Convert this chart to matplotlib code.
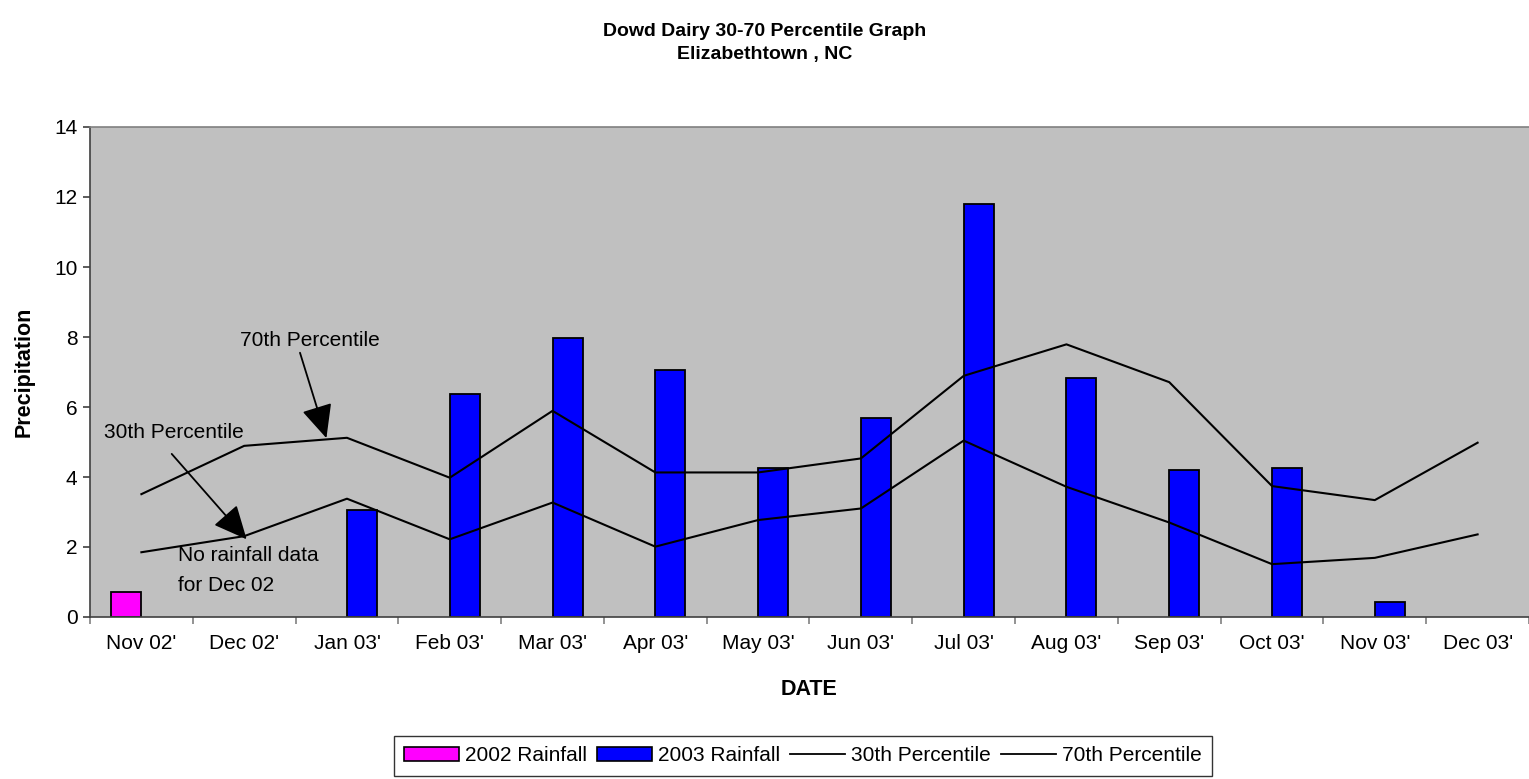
import matplotlib
matplotlib.use("Agg")
import matplotlib.pyplot as plt
import numpy as np
from matplotlib.patches import Patch
from matplotlib.lines import Line2D

plt.rcParams['font.family'] = ['Liberation Sans', 'DejaVu Sans']

categories = ["Nov 02'", "Dec 02'", "Jan 03'", "Feb 03'", "Mar 03'", "Apr 03'", "May 03'",
              "Jun 03'", "Jul 03'", "Aug 03'", "Sep 03'", "Oct 03'", "Nov 03'", "Dec 03'"]
rain_2002 = [0.71, np.nan, np.nan, np.nan, np.nan, np.nan, np.nan,
             np.nan, np.nan, np.nan, np.nan, np.nan, np.nan, np.nan]
rain_2003 = [np.nan, np.nan, 3.05, 6.36, 7.96, 7.06, 4.25,
             5.68, 11.80, 6.82, 4.20, 4.25, 0.42, np.nan]
pct_30 = [1.85, 2.31, 3.38, 2.22, 3.27, 2.01, 2.77, 3.10, 5.04, 3.72, 2.70, 1.51, 1.69, 2.36]
pct_70 = [3.51, 4.89, 5.12, 3.98, 5.89, 4.13, 4.13, 4.53, 6.89, 7.79, 6.71, 3.74, 3.34, 4.98]
yticks = [0, 2, 4, 6, 8, 10, 12, 14]

W, H = 1529, 779
FS = 15
fig = plt.figure(figsize=(W / 100, H / 100), dpi=100)
ax = fig.add_axes([90 / W, 1 - 617 / H, (W - 90) / W, (617 - 127) / H])
ax.set_facecolor('#C0C0C0')

x = np.arange(len(categories))
bw = 0.292
ax.bar(x, rain_2002, width=-bw, align='edge', color='#FF00FF', edgecolor='black', linewidth=1.3, zorder=2)
ax.bar(x, rain_2003, width=bw, align='edge', color='#0000FF', edgecolor='black', linewidth=1.3, zorder=2)
ax.plot(x, pct_30, color='black', linewidth=1.5, zorder=3)
ax.plot(x, pct_70, color='black', linewidth=1.5, zorder=3)

ax.set_xlim(-0.5, len(categories) - 0.5)
ax.set_ylim(0, 14)
ax.set_yticks(yticks)
ax.set_xticks(x)
ax.set_xticklabels(categories)
ax.set_xticks(np.arange(-0.5, len(categories) + 0.5, 1), minor=True)
ax.tick_params(axis='x', which='major', length=0, pad=12, labelsize=FS)
ax.tick_params(axis='x', which='minor', length=5, color='#808080', width=1.2)
ax.tick_params(axis='y', which='major', length=5, color='#404040', width=1.2, labelsize=FS, pad=4)

for s in ['left', 'bottom']:
    ax.spines[s].set_color('#404040')
    ax.spines[s].set_linewidth(1.2)
ax.spines['top'].set_color('#808080')
ax.spines['top'].set_linewidth(1.2)
ax.spines['right'].set_visible(False)

ax.set_xlabel('DATE', fontsize=15.5, fontweight='bold', labelpad=19)
ax.set_ylabel('Precipitation', fontsize=15.5, fontweight='bold', labelpad=14)

fig.text(765 / W, 1 - 31 / H, 'Dowd Dairy 30-70 Percentile Graph', ha='center', va='center',
         fontsize=14, fontweight='bold')
fig.text(765 / W, 1 - 54 / H, 'Elizabethtown , NC', ha='center', va='center',
         fontsize=14, fontweight='bold')

# annotations
arrow = dict(arrowstyle='-|>,head_length=1.3,head_width=0.6', color='black', lw=1.3,
             shrinkA=0, shrinkB=0, mutation_scale=16)
ax.text(0.959, 7.89, '70th Percentile', fontsize=FS, ha='left', va='center', zorder=4)
ax.annotate('', xy=(1.80, 5.11), xytext=(1.543, 7.55), arrowprops=arrow, zorder=4)
ax.text(-0.361, 5.27, '30th Percentile', fontsize=FS, ha='left', va='center', zorder=4)
ax.annotate('', xy=(1.024, 2.22), xytext=(0.295, 4.66), arrowprops=arrow, zorder=4)
ax.text(0.359, 1.77, 'No rainfall data', fontsize=FS, ha='left', va='center', zorder=4)
ax.text(0.359, 0.91, 'for Dec 02', fontsize=FS, ha='left', va='center', zorder=4)

handles = [Patch(facecolor='#FF00FF', edgecolor='black', linewidth=1.2),
           Patch(facecolor='#0000FF', edgecolor='black', linewidth=1.2),
           Line2D([], [], color='black', linewidth=1.3),
           Line2D([], [], color='black', linewidth=1.3)]
labels = ['2002 Rainfall', '2003 Rainfall', '30th Percentile', '70th Percentile']
leg = fig.legend(handles, labels, loc='upper center', bbox_to_anchor=(803 / W, 1 - 736 / H),
                 ncol=4, fontsize=FS, frameon=True, fancybox=False, edgecolor='black',
                 handlelength=2.64, handleheight=0.67, handletextpad=0.29, columnspacing=0.48,
                 borderpad=0.5, borderaxespad=0)
leg.get_frame().set_linewidth(1.0)

fig.savefig('out.png', dpi=100, facecolor='white')
